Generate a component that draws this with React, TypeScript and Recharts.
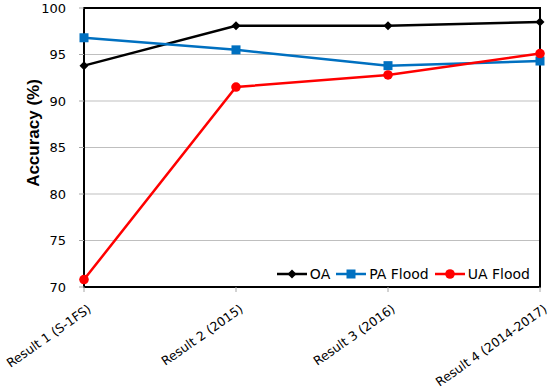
import React from "react"
import {
    LineChart,
    Line,
    XAxis,
    YAxis,
    CartesianGrid,
    Legend,
    ReferenceArea,
} from "recharts"

const categories = [
    "Result 1 (S-1FS)",
    "Result 2 (2015)",
    "Result 3 (2016)",
    "Result 4 (2014-2017)",
]
const oa = [93.8, 98.1, 98.1, 98.5]
const paFlood = [96.8, 95.5, 93.8, 94.3]
const uaFlood = [70.8, 91.5, 92.8, 95.1]
const yTicks = [70, 75, 80, 85, 90, 95, 100]

const data = categories.map((name, i) => ({
    name,
    oa: oa[i],
    pa: paFlood[i],
    ua: uaFlood[i],
}))

const FONT = "'DejaVu Sans', sans-serif"

const series = [
    { key: "oa", label: "OA", color: "#000000", shape: "diamond" },
    { key: "pa", label: "PA Flood", color: "#0070C0", shape: "square" },
    { key: "ua", label: "UA Flood", color: "#FF0000", shape: "circle" },
]

function Marker({ cx, cy, shape, color }: any) {
    if (cx == null || cy == null) return null
    if (shape === "diamond") {
        const s = 4.5
        return (
            <path
                d={`M${cx},${cy - s}L${cx + s},${cy}L${cx},${cy + s}L${cx - s},${cy}Z`}
                fill={color}
            />
        )
    }
    if (shape === "square") {
        return <rect x={cx - 4.5} y={cy - 4.5} width={9} height={9} fill={color} />
    }
    return <circle cx={cx} cy={cy} r={4.8} fill={color} />
}

// rotated category labels, top-right corner sits just under the tick
function XTick({ x, y, payload }: any) {
    return (
        <g transform={`translate(${x + 8},${y + 17})`}>
            <text
                x={0}
                y={0}
                textAnchor="end"
                transform="rotate(-35)"
                fontFamily={FONT}
                fontSize={12.5}
                fill="#000"
            >
                {payload.value}
            </text>
        </g>
    )
}

function LegendContent() {
    return (
        <div
            style={{
                display: "flex",
                justifyContent: "flex-end",
                width: "100%",
                fontFamily: FONT,
                fontSize: 14,
                color: "#000",
                lineHeight: "16px",
            }}
        >
            {series.map((s) => (
                <div key={s.key} style={{ display: "flex", alignItems: "center", marginLeft: 6 }}>
                    <svg width={30} height={12}>
                        <line x1={0} y1={6} x2={30} y2={6} stroke={s.color} strokeWidth={2.5} />
                        <Marker cx={15} cy={6} shape={s.shape} color={s.color} />
                    </svg>
                    <span style={{ marginLeft: 3 }}>{s.label}</span>
                </div>
            ))}
        </div>
    )
}

function YLabel() {
    return (
        <text
            x={39}
            y={133}
            transform="rotate(-90, 39, 133)"
            textAnchor="middle"
            fontFamily="'Liberation Sans', Arial, sans-serif"
            fontWeight="bold"
            fontSize={17}
            fill="#000"
        >
            Accuracy (%)
        </text>
    )
}

export default function App() {
    return (
        <div style={{ position: "absolute", left: 0, top: 0, background: "#fff" }}>
            <LineChart
                width={550}
                height={391}
                data={data}
                margin={{ top: 8, right: 10, bottom: 0, left: 0 }}
            >
                <CartesianGrid vertical={false} stroke="#BFBFBF" strokeWidth={1} />
                <XAxis
                    dataKey="name"
                    height={104}
                    interval={0}
                    tick={<XTick />}
                    tickLine={{ stroke: "#A6A6A6" }}
                    tickSize={5}
                    axisLine={{ stroke: "#000", strokeWidth: 2 }}
                />
                <YAxis
                    domain={[70, 100]}
                    ticks={yTicks}
                    width={84}
                    tick={{ fontFamily: FONT, fontSize: 13, fill: "#000" }}
                    tickLine={{ stroke: "#A6A6A6" }}
                    tickSize={5}
                    tickMargin={13}
                    axisLine={{ stroke: "#000", strokeWidth: 2 }}
                    label={<YLabel />}
                />
                <ReferenceArea
                    x1={categories[0]}
                    x2={categories[categories.length - 1]}
                    y1={70}
                    y2={100}
                    fill="none"
                    fillOpacity={0}
                    stroke="#000"
                    strokeWidth={2}
                />
                <Legend
                    layout="horizontal"
                    verticalAlign="middle"
                    align="center"
                    content={<LegendContent />}
                    wrapperStyle={{ left: 0, top: 266, width: 530 }}
                />
                {series.map((s) => (
                    <Line
                        key={s.key}
                        dataKey={s.key}
                        name={s.label}
                        type="linear"
                        stroke={s.color}
                        strokeWidth={2.5}
                        dot={(p: any) => (
                            <Marker
                                key={`${s.key}-${p.index}`}
                                cx={p.cx}
                                cy={p.cy}
                                shape={s.shape}
                                color={s.color}
                            />
                        )}
                        activeDot={false}
                        isAnimationActive={false}
                    />
                ))}
            </LineChart>
        </div>
    )
}
